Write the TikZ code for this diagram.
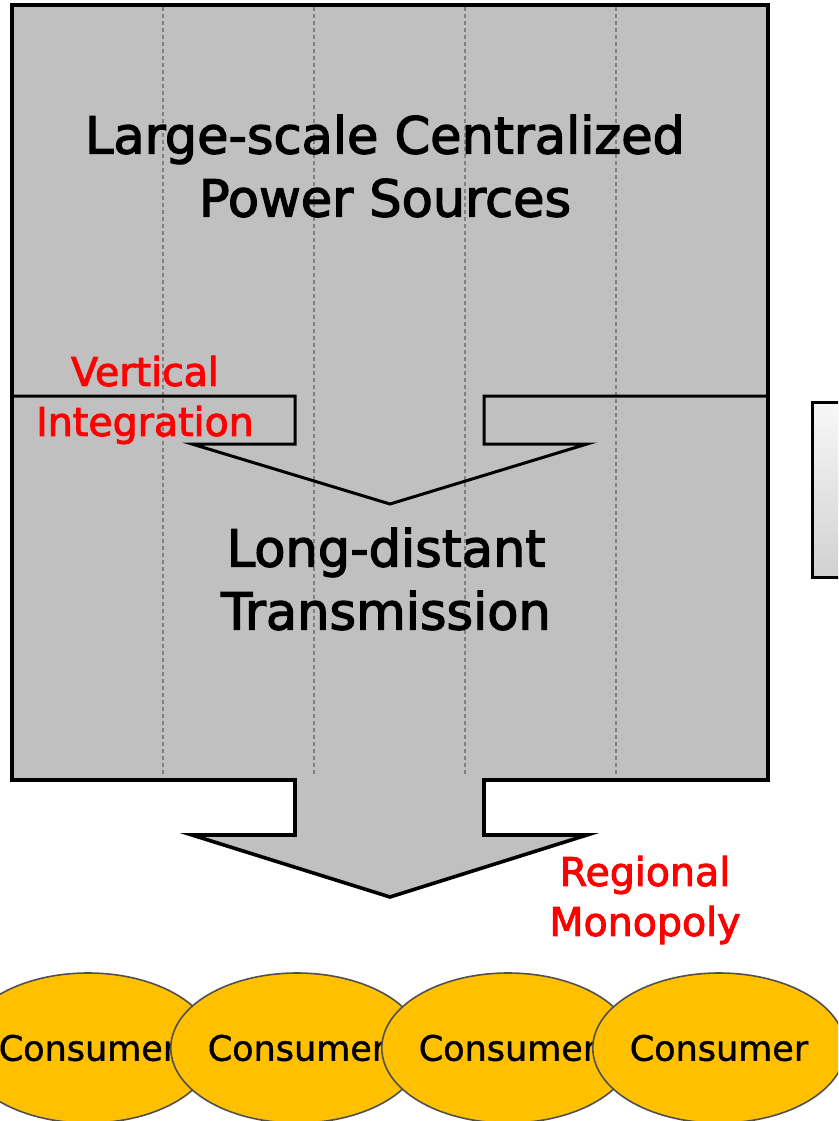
\documentclass[tikz,border=0pt]{standalone}
\usepackage{fontspec}
\setmainfont{DejaVu Sans}
\newfontfamily\medfont{DejaVu Sans}[FakeBold=2.5]
\newfontfamily\litefont{DejaVu Sans}[FakeBold=1.2]
\usetikzlibrary{shapes.geometric}
\definecolor{boxgrey}{HTML}{C0C0C0}
\definecolor{dashgrey}{HTML}{808080}
\definecolor{consumerfill}{HTML}{FFC000}
\definecolor{consumerline}{HTML}{505050}
\definecolor{redtext}{HTML}{FF0000}
\tikzset{
  outline/.style={draw=black, line width=3.6pt, line join=miter},
  innerline/.style={draw=black, line width=3pt, line join=miter},
  gridline/.style={draw=dashgrey, line width=1.2pt, dash pattern=on 4pt off 3pt},
  bigtext/.style={font=\medfont\fontsize{51}{63}\selectfont, align=center, inner sep=0pt, text=black},
  redlabel/.style={font=\medfont\fontsize{39.5}{50}\selectfont, align=center, inner sep=0pt, text=redtext},
  consumer/.style={ellipse, fill=consumerfill, draw=consumerline, line width=1.6pt,
    minimum width=236pt, minimum height=150pt, inner sep=0pt,
    font=\litefont\fontsize{35}{42}\selectfont},
}
\begin{document}
\begin{tikzpicture}[x=1pt, y=-1pt]
\useasboundingbox (0,0) rectangle (838,1121);
\clip (0,0) rectangle (838,1121);
% main grey body with bottom arrow
\fill[boxgrey] (12,5) -- (768,5) -- (768,780) -- (484,780) -- (484,835) -- (587,835)
  -- (390,897) -- (192,835) -- (295,835) -- (295,780) -- (12,780) -- cycle;
% dashed grid lines
\foreach \gx in {163,314,465,616} {
  \draw[gridline] (\gx,7) -- (\gx,775);
}
\draw[outline] (12,5) -- (768,5) -- (768,780) -- (484,780) -- (484,835) -- (587,835)
  -- (390,897) -- (192,835) -- (295,835) -- (295,780) -- (12,780) -- cycle;
% inner arrow between the two stages
\draw[innerline] (12,396) -- (295,396) -- (295,444) -- (192,444) -- (390,504)
  -- (587,444) -- (484,444) -- (484,396) -- (768,396);
% partial box on the right
\draw[top color=white!97!black, bottom color=black!18, draw=black, line width=3pt]
  (812,402) rectangle (860,577);
% texts
\node[bigtext] (sources) at (385,166) {Large-scale Centralized\\Power Sources};
\node[bigtext] (trans) at (386,579) {Long-distant\\Transmission};
\node[redlabel] (vint) at (145,400) {Vertical\\Integration};
\node[redlabel] (rmono) at (645,900) {Regional\\Monopoly};
% consumers
\node[consumer] (c1) at (88,1048) {Consumer};
\node[consumer] (c2) at (297,1048) {Consumer};
\node[consumer] (c3) at (508,1048) {Consumer};
\node[consumer] (c4) at (719,1048) {Consumer};
\end{tikzpicture}
\end{document}
